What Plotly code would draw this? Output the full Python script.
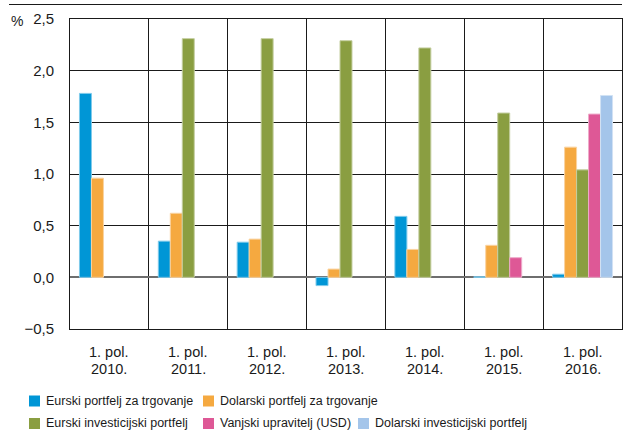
import plotly.graph_objects as go

# Half-year periods (1st half of each year)
half_label = "1. pol."
years = ["2010.", "2011.", "2012.", "2013.", "2014.", "2015.", "2016."]

# Returns by portfolio, in %
series_names = [
    "Eurski portfelj za trgovanje",
    "Dolarski portfelj za trgovanje",
    "Eurski investicijski portfelj",
    "Vanjski upravitelj (USD)",
    "Dolarski investicijski portfelj",
]
eur_trading = [1.78, 0.35, 0.34, -0.08, 0.59, 0.005, 0.03]
usd_trading = [0.96, 0.62, 0.37, 0.08, 0.27, 0.31, 1.26]
eur_invest = [None, 2.31, 2.31, 2.29, 2.22, 1.59, 1.04]
ext_manager = [None, None, None, None, None, 0.19, 1.58]
usd_invest = [None, None, None, None, None, None, 1.76]
series_values = [eur_trading, usd_trading, eur_invest, ext_manager, usd_invest]
series_colors = ["#0096d6", "#f5a940", "#8a9e41", "#de5896", "#a4c5ea"]
edge_colors = ["#7fcaeb", "#fad3a0", "#c4cea0", "#eeabca", "#d1e2f4"]

FONT = "Liberation Sans, Arial, sans-serif"
TXT = "#1a1a1a"

W, H = 623, 432
L, R, T, B = 70, 1, 19, 103
PW, PH = W - L - R, H - T - B


def px(x):
    return (x - L) / PW


def py(y):
    return (H - B - y) / PH


x_idx = list(range(len(years)))

fig = go.Figure()
for name, vals, col, edge in zip(series_names, series_values, series_colors, edge_colors):
    fig.add_trace(go.Bar(
        x=x_idx, y=vals, name=name,
        marker=dict(color=col, line=dict(color=edge, width=1)),
        showlegend=False,
    ))

# Category labels under each group
annotations = []
for i, yr in enumerate(years):
    annotations.append(dict(x=i, xref="x", y=py(352), yref="paper", text=half_label,
                            showarrow=False, xanchor="center", yanchor="middle",
                            font=dict(family=FONT, size=14.5, color=TXT)))
    annotations.append(dict(x=i, xref="x", y=py(368.5), yref="paper", text=yr,
                            showarrow=False, xanchor="center", yanchor="middle",
                            font=dict(family=FONT, size=14.5, color=TXT)))

# Unit label
annotations.append(dict(x=px(9), xref="paper", y=py(21), yref="paper", text="%",
                        showarrow=False, xanchor="left", yanchor="middle",
                        font=dict(family=FONT, size=14, color=TXT)))

# Legend drawn as swatches + labels
shapes = []
legend_slots = [(29, 401), (203, 401), (29, 423.5), (203, 423.5), (358, 423.5)]
for (lx, ly), name, col in zip(legend_slots, series_names, series_colors):
    shapes.append(dict(type="rect", xref="paper", yref="paper",
                       x0=px(lx), x1=px(lx + 11), y0=py(ly - 5.5), y1=py(ly + 5.5),
                       fillcolor=col, line=dict(width=0)))
    annotations.append(dict(x=px(lx + 15), xref="paper", y=py(ly), yref="paper",
                            text=name, showarrow=False, xanchor="left", yanchor="middle",
                            font=dict(family=FONT, size=12.5, color=TXT)))

# Rule across the top
shapes.append(dict(type="line", xref="paper", yref="paper",
                   x0=px(9), x1=px(622), y0=py(4.5), y1=py(4.5),
                   line=dict(color=TXT, width=1)))

fig.update_layout(
    width=W, height=H,
    margin=dict(l=L, r=R, t=T, b=B),
    paper_bgcolor="white", plot_bgcolor="white",
    barmode="group", bargap=0.24, bargroupgap=0,
    separators=", ",
    font=dict(family=FONT, size=15, color=TXT),
    shapes=shapes,
    annotations=annotations,
    xaxis=dict(
        range=[-0.5, len(years) - 0.5],
        tickvals=x_idx, showticklabels=False, ticks="",
        showgrid=False, zeroline=False,
        showline=True, mirror=True, linecolor=TXT, linewidth=1,
        minor=dict(tickvals=[i + 0.5 for i in x_idx[:-1]], showgrid=True,
                   gridcolor=TXT, gridwidth=1, ticks=""),
    ),
    yaxis=dict(
        range=[-0.5, 2.5], dtick=0.5, tickformat=".1f",
        showgrid=True, gridcolor=TXT, gridwidth=1,
        zeroline=True, zerolinecolor="#6e6e6e", zerolinewidth=2,
        showline=True, mirror=True, linecolor=TXT, linewidth=1,
        ticks="", ticklabelstandoff=12,
        tickfont=dict(family=FONT, size=15, color=TXT),
    ),
)

fig.write_html("out.html")
